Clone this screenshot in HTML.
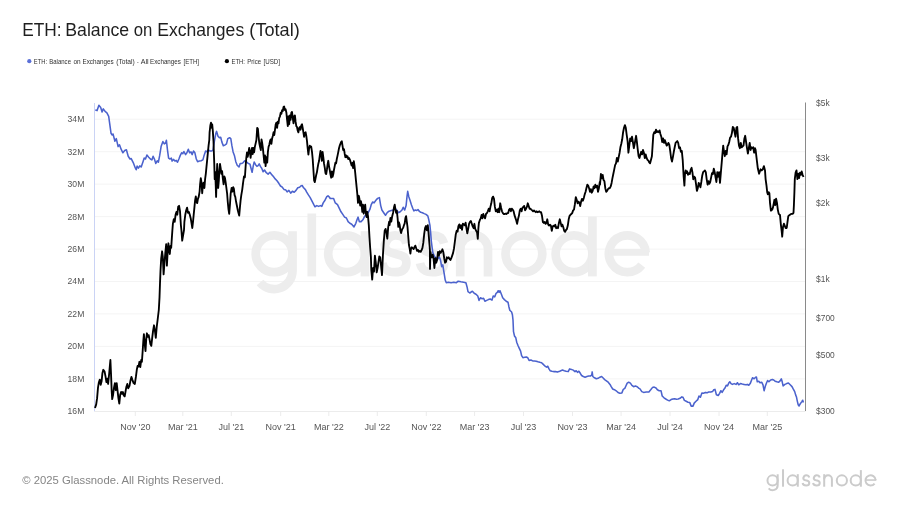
<!DOCTYPE html>
<html><head><meta charset="utf-8">
<style>
html,body{margin:0;padding:0;background:#fff;}
body{width:900px;height:506px;overflow:hidden;position:relative;font-family:"Liberation Sans",sans-serif;}
svg{position:absolute;left:0;top:0;will-change:transform;}
text{font-family:"Liberation Sans",sans-serif;}
</style></head><body>
<svg width="900" height="506" viewBox="0 0 900 506">
<defs>
<g id="logo" fill="none" stroke-linecap="butt" stroke-linejoin="round">
<circle cx="274.1" cy="253.8" r="18.4"/>
<path d="M292.5,231.20000000000002 V270.7 A18.4,18.4 0 0 1 260.00,282.53"/>
<path d="M311.8,213.5 V276.4"/>
<circle cx="346.6" cy="253.8" r="18.4"/>
<path d="M365.0,231.20000000000002 V276.4"/>
<path d="M406.40000000000003,243.4 C404.40000000000003,236.4 400.1,235.4 395.1,235.4 C385.8,235.4 384.8,247.70000000000002 384.8,244.6 C384.8,251.8 391.1,252.8 395.1,253.8 C401.1,255.3 406.40000000000003,255.8 406.40000000000003,263.0 C406.40000000000003,270.2 401.1,272.2 395.1,272.2 C388.1,272.2 383.8,270.2 382.3,263.2"/>
<path d="M444.1,243.4 C442.1,236.4 437.8,235.4 432.8,235.4 C423.5,235.4 422.5,247.70000000000002 422.5,244.6 C422.5,251.8 428.8,252.8 432.8,253.8 C438.8,255.3 444.1,255.8 444.1,263.0 C444.1,270.2 438.8,272.2 432.8,272.2 C425.8,272.2 421.5,270.2 420.0,263.2"/>
<path d="M460.2,231.20000000000002 V276.4"/>
<path d="M460.2,249.3 A13.900000000000006,13.900000000000006 0 0 1 488.0,249.3 V276.4"/>
<circle cx="523.9" cy="253.8" r="18.4"/>
<circle cx="574.0" cy="253.8" r="18.4"/>
<path d="M592.4,216.6 V276.4"/>
<path d="M645.6999999999999,252.60000000000002 A18.4,18.4 0 1 0 641.80,265.13"/>
</g>
</defs>
<rect width="900" height="506" fill="#ffffff"/>
<!-- title -->
<text y="36.1" font-size="17.45" fill="#1f1f1f" id="title"><tspan x="22.16" textLength="39.33" lengthAdjust="spacingAndGlyphs">ETH:</tspan><tspan x="65.23" textLength="64.00" lengthAdjust="spacingAndGlyphs">Balance</tspan><tspan x="133.63" textLength="18.62" lengthAdjust="spacingAndGlyphs">on</tspan><tspan x="157.24" textLength="86.95" lengthAdjust="spacingAndGlyphs">Exchanges</tspan><tspan x="249.39" textLength="50.38" lengthAdjust="spacingAndGlyphs">(Total)</tspan></text>
<!-- legend -->
<circle cx="29.3" cy="61.2" r="2.1" fill="#5b70d8"/>
<text y="64.1" font-size="8.0" fill="#303030" id="leg1"><tspan x="33.81" textLength="13.20" lengthAdjust="spacingAndGlyphs">ETH:</tspan><tspan x="49.25" textLength="21.73" lengthAdjust="spacingAndGlyphs">Balance</tspan><tspan x="73.52" textLength="7.18" lengthAdjust="spacingAndGlyphs">on</tspan><tspan x="82.50" textLength="31.17" lengthAdjust="spacingAndGlyphs">Exchanges</tspan><tspan x="116.16" textLength="18.55" lengthAdjust="spacingAndGlyphs">(Total)</tspan><tspan x="136.93" textLength="1.65" lengthAdjust="spacingAndGlyphs">-</tspan><tspan x="140.67" textLength="7.88" lengthAdjust="spacingAndGlyphs">All</tspan><tspan x="150.00" textLength="30.91" lengthAdjust="spacingAndGlyphs">Exchanges</tspan><tspan x="183.50" textLength="15.54" lengthAdjust="spacingAndGlyphs">[ETH]</tspan></text>
<circle cx="226.9" cy="61.2" r="2.1" fill="#000"/>
<text y="64.1" font-size="8.0" fill="#303030" id="leg2"><tspan x="231.50" textLength="13.46" lengthAdjust="spacingAndGlyphs">ETH:</tspan><tspan x="247.29" textLength="13.73" lengthAdjust="spacingAndGlyphs">Price</tspan><tspan x="263.55" textLength="16.49" lengthAdjust="spacingAndGlyphs">[USD]</tspan></text>
<!-- grid -->
<g stroke="#f4f4f4" stroke-width="1">
<line x1="95" x2="805" y1="378.9" y2="378.9"/>
<line x1="95" x2="805" y1="346.4" y2="346.4"/>
<line x1="95" x2="805" y1="313.9" y2="313.9"/>
<line x1="95" x2="805" y1="281.5" y2="281.5"/>
<line x1="95" x2="805" y1="249.1" y2="249.1"/>
<line x1="95" x2="805" y1="216.6" y2="216.6"/>
<line x1="95" x2="805" y1="184.1" y2="184.1"/>
<line x1="95" x2="805" y1="151.7" y2="151.7"/>
<line x1="95" x2="805" y1="119.2" y2="119.2"/>
</g>
<use href="#logo" stroke="#ededed" stroke-width="8.7"/><path d="M608.9,252.4 H649" stroke="#ededed" stroke-width="6.6" fill="none"/>
<line x1="94.5" x2="94.5" y1="103" y2="411.5" stroke="#cad3f5" stroke-width="1"/>
<line x1="94.5" x2="805.5" y1="411.5" y2="411.5" stroke="#ececec" stroke-width="1"/>
<line x1="805.5" x2="805.5" y1="102.5" y2="411" stroke="#8a8a8a" stroke-width="1"/>
<g stroke="#ececec" stroke-width="1">
<line x1="135.3" x2="135.3" y1="411.5" y2="416"/>
<line x1="182.8" x2="182.8" y1="411.5" y2="416"/>
<line x1="231.3" x2="231.3" y1="411.5" y2="416"/>
<line x1="280.7" x2="280.7" y1="411.5" y2="416"/>
<line x1="328.8" x2="328.8" y1="411.5" y2="416"/>
<line x1="377.3" x2="377.3" y1="411.5" y2="416"/>
<line x1="426.3" x2="426.3" y1="411.5" y2="416"/>
<line x1="474.6" x2="474.6" y1="411.5" y2="416"/>
<line x1="523.5" x2="523.5" y1="411.5" y2="416"/>
<line x1="572.5" x2="572.5" y1="411.5" y2="416"/>
<line x1="621.1" x2="621.1" y1="411.5" y2="416"/>
<line x1="670.0" x2="670.0" y1="411.5" y2="416"/>
<line x1="719.0" x2="719.0" y1="411.5" y2="416"/>
<line x1="767.3" x2="767.3" y1="411.5" y2="416"/>
</g>
<g font-size="8.6" fill="#555" text-anchor="end">
<text x="84.3" y="414.2">16M</text>
<text x="84.3" y="381.8">18M</text>
<text x="84.3" y="349.3">20M</text>
<text x="84.3" y="316.8">22M</text>
<text x="84.3" y="284.4">24M</text>
<text x="84.3" y="252.0">26M</text>
<text x="84.3" y="219.5">28M</text>
<text x="84.3" y="187.0">30M</text>
<text x="84.3" y="154.6">32M</text>
<text x="84.3" y="122.2">34M</text>
</g>
<g font-size="8.4" fill="#555">
<text x="816.1" y="105.8">$5k</text>
<text x="816.1" y="161.2">$3k</text>
<text x="816.1" y="205.9">$2k</text>
<text x="816.1" y="281.5">$1k</text>
<text x="816.1" y="320.9">$700</text>
<text x="816.1" y="358.1">$500</text>
<text x="816.1" y="413.9">$300</text>
</g>
<g font-size="9" fill="#555" text-anchor="middle">
<text x="135.3" y="430">Nov '20</text>
<text x="182.8" y="430">Mar '21</text>
<text x="231.3" y="430">Jul '21</text>
<text x="280.7" y="430">Nov '21</text>
<text x="328.8" y="430">Mar '22</text>
<text x="377.3" y="430">Jul '22</text>
<text x="426.3" y="430">Nov '22</text>
<text x="474.6" y="430">Mar '23</text>
<text x="523.5" y="430">Jul '23</text>
<text x="572.5" y="430">Nov '23</text>
<text x="621.1" y="430">Mar '24</text>
<text x="670.0" y="430">Jul '24</text>
<text x="719.0" y="430">Nov '24</text>
<text x="767.3" y="430">Mar '25</text>
</g>
<path d="M95.3,110.1 L97.1,110.6 L98.9,105.3 L100.7,107.4 L102.1,111.9 L103.3,108.9 L105.1,111.4 L106.9,112.8 L108.7,116.3 L109.9,125.2 L111.0,133.2 L112.2,135.0 L113.1,134.1 L114.9,141.2 L116.3,138.6 L118.1,146.6 L119.5,144.8 L121.1,149.2 L122.9,152.8 L124.7,150.5 L126.4,149.8 L128.2,156.3 L130.0,159.0 L131.2,158.6 L133.6,163.4 L135.3,167.9 L136.2,169.7 L137.1,166.1 L138.4,168.2 L139.8,165.8 L141.2,167.0 L143.0,161.7 L144.2,158.1 L145.5,159.0 L146.9,155.1 L148.7,157.2 L150.4,159.0 L151.9,159.9 L153.1,156.3 L154.4,159.0 L155.8,163.4 L157.2,160.8 L158.4,162.2 L159.7,155.4 L161.1,146.6 L162.9,141.6 L164.3,143.9 L165.6,143.0 L166.4,140.3 L167.5,150.1 L168.6,158.1 L170.0,159.0 L171.4,158.1 L172.1,161.1 L173.6,159.4 L175.0,161.1 L176.2,160.4 L177.5,162.2 L178.9,159.0 L180.3,155.4 L181.6,152.8 L182.8,153.7 L183.9,151.5 L185.6,154.6 L186.9,152.8 L188.3,149.2 L189.6,152.8 L191.0,151.9 L192.2,154.6 L193.5,151.0 L194.9,152.8 L196.3,159.0 L197.6,161.7 L199.3,161.1 L201.1,160.8 L202.9,159.9 L204.1,155.4 L205.6,151.0 L207.0,151.9 L208.2,149.8 L210.0,151.0 L211.8,151.0 L213.0,150.1 L214.4,141.2 L215.9,133.2 L216.6,131.4 L218.0,136.2 L219.4,137.7 L220.7,137.3 L221.9,142.1 L223.3,145.7 L224.8,145.1 L226.5,143.9 L227.8,138.6 L229.6,137.7 L230.8,138.6 L231.9,145.7 L233.1,151.9 L234.4,155.4 L235.8,161.7 L237.2,165.2 L239.0,167.0 L240.2,163.4 L242.0,163.4 L243.2,162.6 L244.7,160.8 L246.4,161.7 L248.2,163.4 L250.0,164.3 L251.0,168.2 L252.1,172.3 L253.3,165.6 L254.2,162.0 L255.6,164.7 L256.9,166.4 L258.1,165.6 L259.2,163.8 L260.4,166.4 L261.7,168.2 L263.1,171.8 L264.5,170.0 L266.3,172.7 L268.1,174.1 L269.9,172.3 L271.6,174.4 L273.4,176.6 L275.2,178.9 L277.0,180.7 L278.8,183.3 L280.5,186.0 L282.3,187.2 L284.1,189.6 L285.9,190.1 L287.1,191.9 L288.9,190.4 L290.7,193.1 L292.4,191.3 L294.2,192.2 L296.0,190.4 L297.8,187.8 L299.6,187.2 L300.8,186.0 L302.2,185.5 L303.6,187.8 L305.4,189.6 L306.7,192.2 L308.4,194.9 L310.2,197.6 L312.0,201.1 L313.8,204.7 L315.0,206.8 L316.8,205.6 L318.6,206.4 L320.4,205.6 L321.8,206.4 L323.2,202.9 L325.0,200.2 L326.8,196.7 L328.0,195.8 L329.8,197.6 L330.0,198.4 L333.6,198.4 L335.3,202.9 L337.5,204.7 L339.2,208.2 L341.0,211.8 L342.8,214.4 L344.6,217.1 L346.4,218.0 L348.1,221.6 L349.9,223.3 L351.7,224.2 L354.0,226.9 L355.8,223.3 L357.0,219.8 L358.1,217.1 L359.3,221.6 L361.1,221.6 L362.9,219.8 L364.7,216.2 L366.4,214.4 L368.2,212.7 L370.0,209.1 L371.2,204.7 L372.7,202.0 L374.1,202.9 L375.9,200.2 L377.6,198.4 L379.4,197.6 L380.7,205.6 L381.9,210.0 L383.7,212.7 L385.5,215.3 L387.2,212.7 L389.0,211.2 L391.3,210.5 L393.1,210.0 L394.9,208.2 L396.7,210.0 L398.4,212.7 L400.2,211.8 L402.0,210.0 L403.2,207.3 L404.7,210.0 L406.1,205.6 L407.0,196.7 L407.7,191.3 L408.8,196.7 L410.0,200.2 L411.4,204.7 L412.7,208.2 L413.9,210.9 L415.3,210.0 L416.8,210.5 L418.0,209.5 L419.2,211.2 L420.7,212.3 L422.4,212.7 L424.2,213.6 L426.0,214.4 L427.8,215.9 L428.8,219.8 L429.9,225.1 L430.6,232.2 L431.3,241.1 L432.2,248.2 L432.8,252.4 L434.6,256.9 L436.4,257.8 L437.8,258.7 L439.2,256.9 L440.4,259.6 L441.7,266.7 L442.8,264.9 L443.6,270.2 L444.5,275.6 L445.2,280.0 L446.3,282.7 L448.4,282.3 L451.1,282.7 L453.8,282.3 L456.4,282.7 L458.2,281.2 L460.9,281.8 L463.6,282.3 L465.9,282.7 L467.1,287.1 L468.0,291.6 L469.8,293.0 L472.4,291.2 L474.2,293.3 L476.0,294.2 L477.8,296.0 L479.0,300.4 L480.4,297.8 L482.2,298.7 L483.6,298.3 L484.9,301.3 L486.7,300.4 L488.4,299.6 L490.2,299.0 L492.0,300.1 L493.2,296.0 L494.7,296.9 L496.1,293.3 L497.3,292.4 L498.2,290.7 L499.1,292.4 L500.0,290.7 L501.4,294.2 L502.7,297.8 L504.4,299.6 L506.2,301.3 L508.0,302.2 L508.9,306.7 L509.8,310.2 L511.6,312.0 L512.4,314.7 L513.0,320.0 L513.5,331.6 L514.5,336.0 L515.8,337.8 L516.7,342.2 L518.1,345.8 L519.3,348.4 L520.6,351.1 L521.6,355.6 L522.9,357.7 L524.7,357.3 L526.4,357.0 L527.7,357.7 L529.1,360.5 L530.9,360.0 L532.7,360.9 L534.4,360.9 L536.2,361.2 L538.0,361.8 L539.8,362.3 L541.6,362.7 L543.3,364.4 L545.1,366.2 L546.5,367.1 L547.8,366.2 L549.0,368.9 L550.1,370.7 L551.9,371.2 L553.6,371.6 L555.4,371.6 L557.2,372.1 L559.0,371.6 L560.8,370.7 L562.5,370.1 L564.3,370.7 L566.1,371.2 L568.2,371.6 L569.6,368.9 L571.4,369.4 L573.2,370.1 L575.0,371.6 L576.2,370.7 L577.5,372.4 L578.9,371.2 L580.3,373.3 L581.6,375.5 L583.3,376.5 L585.1,377.2 L586.9,376.5 L588.7,376.0 L590.4,376.0 L591.7,375.1 L592.2,371.9 L592.8,376.5 L594.5,377.8 L596.3,378.7 L598.1,378.3 L599.9,377.2 L601.6,376.5 L602.9,377.8 L604.7,379.6 L606.4,380.8 L608.2,382.2 L610.0,384.4 L611.2,386.7 L612.7,389.0 L614.4,389.7 L616.2,390.8 L618.0,392.5 L619.8,393.2 L621.9,392.9 L623.3,389.3 L624.8,388.4 L626.0,385.8 L627.2,383.1 L628.7,382.2 L630.4,383.1 L631.9,385.4 L633.6,386.7 L635.4,386.1 L637.2,386.7 L639.0,388.4 L640.0,388.9 L641.8,391.6 L643.6,392.4 L646.2,392.1 L648.9,391.9 L650.7,389.8 L652.4,387.6 L654.2,387.1 L656.0,388.0 L657.4,389.8 L659.2,390.7 L661.0,390.7 L662.2,396.0 L664.0,397.8 L665.8,399.0 L667.6,400.1 L669.3,400.8 L671.1,399.6 L672.9,399.0 L674.7,398.7 L676.4,399.2 L678.2,399.0 L680.0,398.3 L681.8,396.9 L683.0,397.2 L684.4,400.4 L686.2,401.3 L688.0,402.2 L689.8,402.6 L691.2,406.1 L693.0,406.1 L694.2,403.1 L696.0,401.3 L697.8,399.6 L699.0,396.0 L700.4,397.2 L701.9,393.0 L703.6,393.3 L705.4,392.4 L707.2,392.8 L709.0,391.9 L710.8,392.1 L712.5,391.6 L713.8,389.8 L715.0,389.4 L716.4,394.8 L718.2,395.5 L719.6,393.3 L720.9,390.7 L722.1,392.4 L723.6,389.8 L725.0,388.0 L726.2,385.3 L727.5,385.9 L728.9,382.7 L729.8,381.8 L731.0,383.6 L732.4,384.4 L734.2,383.6 L736.0,384.4 L737.4,382.7 L738.7,384.8 L740.4,383.6 L742.2,384.1 L744.0,384.4 L745.8,384.8 L747.6,384.4 L748.8,385.3 L750.2,383.6 L751.6,380.0 L752.5,377.7 L754.1,378.8 L755.6,377.3 L756.4,377.0 L757.3,381.8 L758.8,381.2 L760.0,382.7 L761.8,382.3 L763.0,384.8 L764.1,390.7 L765.3,386.2 L766.6,382.7 L767.6,380.5 L768.9,381.8 L770.7,380.0 L772.4,379.5 L773.7,380.0 L775.1,381.2 L776.9,381.8 L778.7,382.3 L780.1,380.9 L781.3,378.8 L782.2,381.8 L783.1,385.9 L784.9,384.4 L786.7,383.6 L788.4,383.0 L790.2,384.8 L792.0,386.6 L793.2,388.9 L794.7,391.6 L795.7,395.1 L796.4,396.7 L797.3,401.1 L798.2,404.7 L799.1,406.0 L800.0,404.2 L800.9,402.9 L801.8,401.6 L802.7,400.2 L803.4,402.4" fill="none" stroke="#4b62cd" stroke-width="1.55" stroke-linejoin="round"/>
<path d="M95.0,408.0 L96.2,404.4 L97.1,398.2 L98.0,387.6 L98.9,382.2 L99.8,379.6 L100.7,384.9 L101.6,381.3 L102.4,373.3 L103.3,369.8 L104.6,371.6 L105.6,376.9 L106.4,382.2 L107.4,378.7 L108.1,384.0 L109.2,373.3 L109.9,365.3 L110.4,360.0 L111.0,373.3 L111.7,391.1 L112.2,399.1 L113.1,394.7 L114.0,387.6 L114.9,383.1 L115.8,390.2 L116.7,383.1 L117.6,391.1 L118.4,398.2 L119.3,403.6 L120.2,394.7 L121.1,392.0 L122.0,393.8 L122.9,392.0 L123.8,395.6 L124.7,396.4 L125.6,391.1 L126.4,386.7 L127.3,384.0 L128.2,388.4 L129.5,385.8 L130.5,380.4 L131.4,376.9 L132.3,379.6 L133.6,383.1 L134.8,384.0 L135.9,376.9 L136.8,369.8 L137.6,365.9 L138.5,366.6 L139.4,361.8 L140.3,367.1 L141.2,360.0 L141.9,361.8 L142.6,352.0 L143.3,341.3 L143.9,334.2 L144.8,344.9 L145.5,351.1 L146.2,339.6 L146.9,333.3 L147.8,336.9 L148.7,335.1 L149.6,339.6 L150.4,344.0 L151.3,345.8 L152.2,337.8 L153.1,330.7 L154.0,325.3 L154.9,330.7 L155.8,337.8 L156.7,327.1 L157.6,320.0 L158.8,310.0 L159.5,297.6 L160.0,283.3 L160.5,270.9 L161.2,258.4 L162.1,251.3 L162.8,256.7 L163.6,274.4 L164.4,263.8 L165.3,253.1 L166.2,244.2 L166.9,265.6 L167.6,253.1 L168.4,243.3 L169.1,249.6 L169.8,254.0 L170.5,246.0 L171.2,247.8 L171.9,237.1 L172.4,230.0 L172.9,223.6 L173.8,219.1 L174.7,221.8 L175.6,214.7 L176.4,212.0 L177.3,214.7 L178.2,206.7 L179.1,205.8 L180.0,211.1 L180.9,225.3 L181.4,230.0 L182.2,240.7 L183.1,235.3 L184.0,230.0 L184.4,221.8 L185.3,214.7 L186.2,210.2 L187.1,207.6 L188.0,212.9 L188.9,212.0 L189.8,214.7 L190.7,218.2 L191.6,223.6 L192.3,228.0 L193.0,221.8 L193.7,214.7 L194.4,207.6 L195.1,200.4 L195.8,196.5 L196.5,201.3 L197.2,203.1 L198.0,198.7 L198.7,196.9 L199.6,191.6 L200.1,184.4 L200.8,178.2 L201.5,182.7 L202.2,193.3 L202.9,184.4 L203.6,182.7 L204.4,188.0 L205.1,179.1 L205.8,173.8 L206.5,166.7 L207.2,159.6 L207.9,152.4 L208.6,145.3 L209.3,140.0 L209.6,132.3 L210.4,125.2 L211.0,122.6 L211.7,127.9 L212.2,124.3 L212.8,130.6 L213.5,141.2 L213.8,150.7 L214.3,164.9 L214.7,179.1 L215.2,172.0 L215.7,184.4 L216.1,196.9 L216.6,179.1 L217.2,164.0 L217.7,175.6 L218.2,188.0 L218.8,180.9 L219.3,172.0 L220.0,164.0 L220.7,168.4 L221.4,173.8 L222.1,171.1 L222.8,178.2 L223.6,184.4 L224.3,176.4 L225.0,178.2 L225.7,182.7 L226.4,188.0 L227.1,193.3 L227.8,202.2 L228.5,209.3 L229.2,213.8 L230.0,204.0 L230.7,193.3 L231.6,188.0 L232.4,191.6 L233.2,187.1 L233.9,188.9 L234.6,195.1 L235.3,196.9 L236.0,201.3 L236.9,205.8 L237.8,210.2 L238.5,212.9 L239.2,215.6 L239.9,207.6 L240.6,200.4 L241.3,195.1 L242.2,189.8 L243.1,182.7 L244.0,176.4 L244.9,177.3 L245.6,166.7 L246.3,157.8 L247.0,152.4 L247.7,156.9 L248.4,153.3 L249.2,148.0 L249.9,151.6 L250.6,157.8 L251.3,151.6 L252.0,148.0 L252.7,154.2 L253.4,148.0 L254.1,152.4 L254.8,147.1 L255.6,143.6 L256.4,140.0 L257.2,127.9 L257.9,128.8 L258.6,136.8 L259.3,143.0 L260.0,146.6 L260.8,150.1 L261.5,139.4 L262.2,143.0 L262.9,148.3 L263.6,155.4 L264.3,162.6 L265.0,155.4 L265.6,166.1 L266.4,157.2 L267.2,162.6 L267.9,151.9 L268.6,146.6 L269.3,144.8 L270.0,141.2 L270.7,139.4 L271.4,143.9 L272.1,138.6 L272.8,135.9 L273.6,132.3 L274.3,135.0 L275.0,129.7 L275.7,124.3 L276.4,122.6 L277.1,127.9 L277.8,121.7 L278.5,123.4 L279.2,118.1 L280.0,116.3 L280.7,112.8 L281.4,113.7 L282.1,110.1 L282.8,111.0 L283.5,107.1 L284.2,106.6 L284.9,110.1 L285.6,109.2 L286.4,112.8 L287.1,119.9 L287.8,126.1 L288.5,116.3 L289.2,124.3 L289.9,115.4 L290.6,119.9 L291.3,112.8 L292.0,111.9 L292.8,118.1 L293.5,123.4 L294.2,116.3 L294.9,115.4 L295.6,121.7 L296.3,126.1 L297.0,127.0 L297.7,130.6 L298.4,132.3 L299.2,127.9 L299.9,127.0 L300.6,129.7 L301.3,125.2 L302.0,124.3 L302.7,127.9 L303.4,132.3 L304.1,136.8 L304.8,133.2 L305.6,132.3 L306.3,135.9 L307.0,141.2 L307.7,148.3 L308.4,154.6 L309.1,148.3 L309.8,145.7 L310.5,147.4 L311.2,146.6 L312.0,151.9 L312.7,159.0 L313.4,169.7 L314.1,180.3 L314.8,182.1 L315.5,178.6 L316.2,175.0 L316.9,172.3 L317.6,167.9 L318.4,163.4 L319.1,160.8 L319.8,155.4 L320.5,151.0 L321.2,153.7 L321.9,160.8 L322.6,151.9 L323.3,157.2 L324.0,163.4 L324.8,167.9 L325.5,173.2 L326.2,174.1 L326.9,169.7 L327.6,164.3 L328.3,160.8 L329.0,166.1 L329.7,169.7 L330.4,174.1 L331.2,177.7 L331.9,171.4 L332.6,176.8 L333.3,174.1 L334.0,169.7 L334.7,166.1 L335.4,162.6 L336.1,163.4 L336.8,159.0 L337.6,155.4 L338.3,151.9 L339.0,148.3 L339.7,145.7 L340.4,143.9 L341.1,142.1 L341.8,141.2 L342.5,145.7 L343.2,150.1 L344.0,149.2 L344.7,153.7 L345.4,157.2 L346.1,155.4 L346.8,157.2 L347.5,156.3 L348.2,159.0 L349.1,158.1 L350.0,159.9 L350.9,162.9 L351.6,165.6 L352.4,162.9 L353.1,168.2 L353.8,161.1 L354.5,165.6 L355.2,172.7 L355.9,179.8 L356.6,186.9 L357.3,194.0 L358.0,202.9 L358.8,195.8 L359.5,199.3 L360.2,205.6 L360.9,201.1 L361.6,204.7 L362.3,211.8 L363.0,204.7 L363.7,213.6 L364.4,208.2 L365.2,204.7 L365.9,213.6 L366.6,217.1 L367.3,211.8 L368.0,216.2 L368.8,225.1 L369.5,237.6 L370.2,248.2 L370.9,257.1 L371.3,269.8 L372.2,279.6 L373.1,268.0 L374.0,271.6 L374.9,255.6 L375.8,262.7 L376.7,272.4 L377.6,268.0 L378.4,262.7 L379.3,256.4 L380.2,257.3 L381.1,266.2 L382.0,275.1 L382.9,255.6 L383.8,241.3 L384.7,230.7 L385.6,228.9 L386.4,232.4 L387.3,238.7 L388.2,227.1 L389.1,221.8 L389.6,225.1 L390.4,218.0 L391.3,221.6 L392.2,216.2 L393.1,212.7 L394.0,207.3 L394.7,204.7 L395.4,209.1 L396.1,212.7 L396.8,210.9 L397.6,218.0 L398.3,226.9 L399.0,222.4 L399.7,225.1 L400.4,230.4 L401.1,233.1 L401.8,230.4 L402.5,228.7 L403.2,227.8 L404.0,225.1 L404.7,223.3 L405.4,218.0 L406.1,216.2 L406.8,221.6 L407.5,226.9 L408.2,235.8 L408.9,244.7 L409.6,248.2 L410.4,253.6 L411.1,248.2 L411.8,247.3 L412.7,248.2 L413.6,249.1 L414.4,247.3 L415.3,245.6 L416.2,248.2 L417.1,250.9 L418.0,250.0 L418.9,251.8 L419.8,250.9 L420.7,251.8 L421.6,250.0 L422.4,248.2 L423.3,242.9 L424.2,234.0 L425.1,227.8 L426.0,226.0 L426.9,230.4 L427.8,225.1 L428.5,232.2 L429.2,241.1 L429.9,250.0 L430.0,268.9 L430.5,252.0 L431.1,255.6 L431.8,257.3 L432.7,254.7 L433.6,259.1 L434.4,268.0 L435.3,258.2 L436.2,262.7 L437.1,260.0 L438.0,252.0 L438.9,255.6 L439.8,251.1 L440.7,252.9 L441.6,251.1 L442.4,249.3 L443.3,252.0 L444.2,258.2 L445.1,262.7 L446.0,261.8 L446.9,257.3 L447.8,258.2 L448.7,257.3 L449.6,259.1 L450.4,260.0 L451.3,258.2 L452.2,255.6 L453.1,252.9 L454.0,248.4 L454.9,241.3 L455.8,234.2 L456.7,230.7 L457.6,231.6 L458.4,226.2 L459.3,224.4 L460.2,228.0 L461.1,225.3 L462.0,229.8 L462.9,223.6 L463.8,224.4 L464.7,225.3 L465.6,222.7 L466.4,228.0 L467.3,233.3 L468.2,228.9 L469.1,223.6 L470.0,221.8 L470.9,221.1 L471.8,223.8 L472.7,226.4 L473.6,228.2 L474.4,223.8 L475.3,229.1 L476.2,230.9 L477.1,232.7 L477.8,238.9 L478.4,228.2 L478.9,222.9 L479.8,220.2 L480.7,218.4 L481.6,214.9 L482.4,218.4 L483.3,214.0 L484.2,216.7 L485.1,218.4 L486.0,214.0 L486.9,213.1 L487.8,211.3 L488.7,208.7 L489.6,211.3 L490.4,206.9 L491.3,203.3 L492.2,198.0 L493.1,196.6 L494.0,198.9 L494.9,206.9 L495.8,211.3 L496.7,209.6 L497.6,212.2 L498.4,208.7 L499.3,212.2 L500.2,203.3 L501.1,207.8 L502.0,211.3 L502.9,213.1 L503.8,214.0 L504.7,214.0 L505.6,213.6 L506.4,214.0 L507.3,213.1 L508.2,213.1 L509.1,209.6 L510.0,208.7 L510.9,211.3 L511.8,208.7 L512.7,209.6 L513.6,211.3 L514.4,214.9 L515.3,217.6 L516.2,220.2 L517.1,223.8 L518.0,219.3 L518.9,215.8 L519.8,210.4 L520.7,208.7 L521.6,211.3 L522.4,207.8 L523.3,206.9 L524.2,206.0 L525.1,210.4 L526.0,208.7 L526.9,206.9 L527.8,203.3 L528.7,206.0 L529.6,208.7 L530.4,208.7 L531.3,209.6 L532.2,210.4 L533.1,211.3 L534.0,210.4 L534.9,211.3 L535.8,212.2 L536.7,211.3 L537.6,212.2 L538.4,211.9 L539.3,211.3 L540.2,212.2 L541.1,212.2 L542.0,215.8 L542.9,222.0 L543.8,222.9 L544.7,222.0 L545.6,223.8 L546.4,222.9 L547.3,219.3 L548.2,224.7 L549.1,225.6 L550.0,224.7 L550.9,225.6 L551.8,230.9 L552.7,226.4 L553.6,225.6 L554.4,226.4 L555.3,224.7 L556.2,228.2 L557.1,227.3 L558.0,228.2 L558.9,222.9 L559.8,219.3 L560.7,222.9 L561.6,226.4 L562.4,224.7 L563.3,227.3 L564.2,230.9 L565.1,231.8 L566.0,230.0 L566.9,229.1 L567.8,225.6 L568.7,219.3 L569.6,215.8 L570.4,214.9 L571.3,214.0 L572.2,213.1 L573.1,210.4 L574.0,209.6 L574.9,204.2 L575.8,197.1 L576.7,199.8 L577.6,203.3 L578.4,201.6 L579.3,202.4 L580.2,206.0 L581.1,201.6 L582.0,198.9 L582.9,200.7 L583.8,198.0 L584.7,194.4 L585.6,191.8 L586.4,188.2 L587.3,184.7 L588.2,185.6 L589.1,188.2 L590.0,191.8 L590.9,189.1 L591.8,192.7 L592.7,190.9 L593.6,186.4 L594.4,188.2 L595.3,184.7 L596.2,187.3 L597.1,185.6 L598.0,191.8 L598.9,188.2 L599.8,182.0 L600.0,184.7 L600.9,174.0 L601.8,178.4 L602.7,174.9 L603.6,180.2 L604.4,181.1 L605.3,188.2 L606.2,191.8 L607.1,190.9 L608.0,189.1 L608.9,188.2 L609.8,188.2 L610.7,186.4 L611.6,182.9 L612.4,178.4 L613.3,174.0 L614.2,169.6 L615.1,165.1 L616.0,163.3 L616.9,158.0 L617.8,161.6 L618.7,157.1 L619.6,152.7 L620.4,147.3 L621.3,143.8 L622.2,139.3 L623.1,132.2 L624.0,127.8 L624.9,125.1 L625.8,127.8 L626.7,134.9 L627.6,141.1 L628.4,152.7 L629.3,145.6 L630.2,138.4 L631.1,141.1 L632.0,136.7 L632.9,142.0 L633.8,148.2 L634.7,143.8 L635.6,138.4 L636.1,135.8 L636.8,141.1 L637.7,149.1 L638.6,156.2 L639.5,158.0 L640.4,154.4 L641.2,151.8 L642.1,154.4 L643.0,150.0 L643.9,152.7 L644.8,158.0 L645.7,154.4 L646.6,158.0 L647.5,159.8 L648.4,160.7 L649.2,162.4 L650.1,163.3 L651.0,159.8 L651.9,156.2 L652.6,145.6 L653.3,134.9 L654.2,132.2 L655.1,133.1 L656.0,129.6 L656.9,132.2 L657.8,131.3 L658.7,132.2 L659.6,130.4 L660.4,134.0 L661.3,136.7 L662.2,142.0 L663.1,138.4 L664.0,142.9 L664.9,140.2 L665.8,142.9 L666.7,145.6 L667.6,144.7 L668.4,142.9 L669.3,144.7 L670.2,150.9 L671.1,158.0 L672.0,161.6 L672.9,157.1 L673.8,151.8 L674.7,147.3 L675.6,142.9 L676.4,142.0 L677.3,141.1 L678.2,142.9 L679.1,148.2 L680.0,147.3 L680.9,151.8 L681.8,150.9 L682.7,159.8 L683.6,175.8 L684.4,185.6 L685.0,174.0 L685.7,170.4 L686.4,173.1 L687.1,171.3 L688.0,174.9 L688.9,173.1 L689.8,174.0 L690.7,169.6 L691.6,167.8 L692.4,172.2 L693.3,179.3 L694.2,176.7 L695.1,177.6 L696.0,183.8 L696.9,190.9 L697.8,188.2 L698.7,182.9 L699.6,184.7 L700.4,187.3 L701.3,182.0 L702.2,175.8 L703.1,172.2 L704.0,171.3 L704.9,170.4 L705.8,172.2 L706.7,179.3 L707.6,184.7 L708.4,181.1 L709.3,183.8 L710.2,182.0 L711.1,177.6 L712.0,173.1 L712.9,174.0 L713.8,168.7 L714.7,172.2 L715.6,177.6 L716.4,182.0 L717.3,172.2 L718.2,176.7 L719.1,172.2 L720.0,182.9 L720.9,172.2 L721.8,161.6 L722.7,150.9 L723.2,145.6 L723.9,150.9 L724.8,156.2 L725.7,150.9 L726.6,154.4 L727.5,146.4 L728.4,144.7 L729.2,142.0 L730.1,137.6 L731.0,136.7 L731.9,133.1 L732.8,126.9 L733.7,127.8 L734.6,132.2 L735.5,136.7 L736.4,127.8 L737.2,126.9 L738.1,138.4 L739.0,145.6 L739.9,148.2 L740.8,142.9 L741.7,147.3 L742.6,146.4 L743.5,145.6 L744.4,138.4 L745.2,135.8 L746.1,142.0 L747.0,148.2 L747.9,153.6 L748.8,148.2 L749.7,142.9 L750.6,150.0 L751.5,147.3 L752.4,148.2 L753.2,147.3 L754.1,152.7 L755.0,148.2 L755.6,149.8 L757.0,161.7 L757.8,168.3 L759.1,173.7 L760.6,169.3 L761.7,170.4 L762.8,169.3 L763.9,166.1 L765.0,170.4 L765.6,179.1 L766.5,185.7 L767.2,192.2 L767.8,194.3 L768.7,192.2 L769.4,193.3 L770.0,203.0 L770.9,210.7 L772.2,209.6 L773.0,207.4 L774.4,199.8 L775.2,205.2 L776.1,198.7 L777.0,203.0 L777.8,209.6 L778.7,213.9 L780.0,215.0 L780.9,224.8 L781.7,231.3 L782.2,236.7 L783.0,227.0 L783.9,223.7 L784.8,225.9 L785.6,228.0 L786.7,228.0 L787.4,222.6 L788.3,216.1 L789.6,215.0 L791.1,213.9 L792.6,213.9 L793.5,212.8 L793.9,205.2 L794.4,192.2 L794.8,179.1 L795.6,172.6 L796.5,170.4 L797.4,179.1 L798.3,173.7 L799.1,178.0 L800.0,172.6 L800.9,174.8 L801.7,171.5 L802.6,174.8 L803.5,177.0" fill="none" stroke="#000" stroke-width="1.85" stroke-linejoin="round"/>
<text x="22.3" y="484" font-size="11.45" fill="#858585" id="foot" textLength="201.5" lengthAdjust="spacingAndGlyphs">© 2025 Glassnode. All Rights Reserved.</text>
<g transform="translate(696.54,410.04) scale(0.2774)"><use href="#logo" stroke="#cbcbcb" stroke-width="7.2"/><path d="M608.9,252.4 H648" stroke="#cbcbcb" stroke-width="5.6" fill="none"/></g>
</svg>
</body></html>
